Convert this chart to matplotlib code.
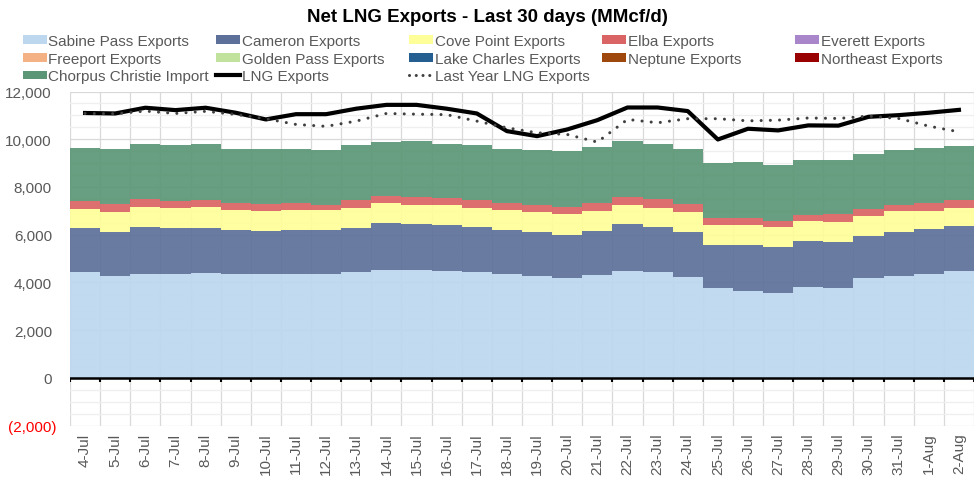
import matplotlib
matplotlib.use('Agg')
import matplotlib.pyplot as plt
import matplotlib.transforms as mtransforms
import numpy as np
from matplotlib.patches import Patch
from matplotlib.lines import Line2D
from matplotlib.ticker import MultipleLocator

plt.rcParams['font.family'] = ['Liberation Sans', 'DejaVu Sans']

dates = ['4-Jul', '5-Jul', '6-Jul', '7-Jul', '8-Jul', '9-Jul', '10-Jul', '11-Jul',
         '12-Jul', '13-Jul', '14-Jul', '15-Jul', '16-Jul', '17-Jul', '18-Jul', '19-Jul',
         '20-Jul', '21-Jul', '22-Jul', '23-Jul', '24-Jul', '25-Jul', '26-Jul', '27-Jul',
         '28-Jul', '29-Jul', '30-Jul', '31-Jul', '1-Aug', '2-Aug']

# MMcf/d
sabine = [4420, 4280, 4360, 4350, 4390, 4350, 4360, 4360, 4360, 4420,
          4530, 4530, 4470, 4440, 4370, 4290, 4190, 4320, 4470, 4440,
          4210, 3760, 3660, 3570, 3790, 3770, 4180, 4260, 4350, 4460]
cameron = [1850, 1830, 1970, 1920, 1910, 1840, 1800, 1830, 1830, 1870,
           1980, 1920, 1940, 1880, 1810, 1840, 1810, 1840, 1970, 1880,
           1900, 1810, 1900, 1920, 1940, 1930, 1770, 1870, 1900, 1900]
cove_point = [820, 860, 820, 850, 850, 840, 840, 840, 840, 840,
              820, 790, 820, 820, 840, 820, 850, 840, 820, 820,
              840, 820, 850, 820, 850, 840, 820, 860, 760, 740]
elba = [340, 310, 340, 310, 310, 290, 290, 290, 220, 320,
        310, 340, 290, 310, 290, 310, 320, 350, 330, 360,
        320, 320, 290, 280, 240, 310, 320, 270, 310, 340]
everett = [0] * 30
freeport = [0] * 30
golden_pass = [0] * 30
lake_charles = [0] * 30
neptune = [0] * 30
northeast = [0] * 30
corpus = [2200, 2300, 2310, 2310, 2320, 2290, 2290, 2290, 2300, 2300,
          2250, 2330, 2300, 2290, 2290, 2310, 2330, 2320, 2320, 2310,
          2340, 2310, 2330, 2330, 2330, 2300, 2290, 2310, 2300, 2260]

lng_exports = [11100, 11080, 11320, 11220, 11320, 11110, 10830, 11050, 11050, 11280,
               11440, 11440, 11280, 11080, 10340, 10130, 10410, 10800, 11330, 11330,
               11180, 9990, 10440, 10370, 10580, 10570, 10940, 11010, 11110, 11230]
last_year = [11080, 11070, 11180, 11080, 11170, 11040, 10860, 10620, 10540, 10760,
             11080, 11050, 11030, 10760, 10480, 10270, 10200, 9880, 10830, 10690,
             10860, 10860, 10770, 10800, 10890, 10870, 10970, 10870, 10550, 10310]

series = [
    ('Sabine Pass Exports', sabine, '#BDD7EE'),
    ('Cameron Exports', cameron, '#5D7099'),
    ('Cove Point Exports', cove_point, '#FFFF99'),
    ('Elba Exports', elba, '#DA6363'),
    ('Everett Exports', everett, '#A985C9'),
    ('Freeport Exports', freeport, '#F4B183'),
    ('Golden Pass Exports', golden_pass, '#C0E29C'),
    ('Lake Charles Exports', lake_charles, '#255E91'),
    ('Neptune Exports', neptune, '#9E480E'),
    ('Northeast Exports', northeast, '#990000'),
    ('Chorpus Christie Import', corpus, '#5B9676'),
]

fig = plt.figure(figsize=(9.74, 4.81), dpi=100)
ax = fig.add_axes([70 / 974, 1 - 426.7 / 481, 904 / 974, 334.2 / 481])

x = np.arange(len(dates))
bottom = np.zeros(len(dates))
handles = {}
for name, vals, color in series:
    ax.bar(x, vals, width=1.0, bottom=bottom, color=color, alpha=0.92,
           linewidth=0, zorder=2)
    bottom += np.array(vals)
    handles[name] = Patch(facecolor=color, edgecolor='none')

ax.plot(x, lng_exports, color='black', lw=3, zorder=4, solid_joinstyle='round')
ax.plot(x, last_year, color='#404040', lw=2.2, linestyle=(0, (0.01, 3)),
        dash_capstyle='round', zorder=4)
handles['LNG Exports'] = Line2D([], [], color='black', lw=3)
handles['Last Year LNG Exports'] = Line2D([], [], color='#404040', lw=2.2,
                                          linestyle=(0, (0.01, 2.2)),
                                          dash_capstyle='round')

ax.set_xlim(-0.5, len(dates) - 0.5)
ax.set_ylim(-2000, 12000)

yticks = list(range(-2000, 12001, 2000))
ylabels = [f'({abs(v):,})' if v < 0 else f'{v:,}' for v in yticks]
ax.set_yticks(yticks, ylabels)
ax.yaxis.set_minor_locator(MultipleLocator(500))
ax.set_xticks(x, dates, rotation=90)
ax.set_xticks(np.arange(-0.5, len(dates), 1), minor=True)

ax.set_axisbelow(True)
ax.grid(axis='y', which='major', color='#D9D9D9', lw=0.9)
ax.grid(axis='y', which='minor', color='#EFEFEF', lw=0.9)
ax.grid(axis='x', which='minor', color='#D9D9D9', lw=0.9)

for s in ax.spines.values():
    s.set_visible(False)

# zero line with category ticks
ax.axhline(0, color='black', lw=1.8, zorder=3)
ax.vlines(np.arange(-0.5, len(dates), 1), -170, 0, color='black', lw=1.5, zorder=3)

ax.tick_params(axis='both', which='both', length=0, labelsize=11, labelcolor='#595959')
ax.tick_params(axis='y', pad=13)
ax.tick_params(axis='x', pad=5)
# negative label in red, with the bracket hanging a little to the right
shift = mtransforms.ScaledTranslation(3 / 72, 0, fig.dpi_scale_trans)
for lab, v in zip(ax.get_yticklabels(), yticks):
    if v < 0:
        lab.set_color('red')
        lab.set_transform(lab.get_transform() + shift)

fig.text(0.5, 1 - 17 / 481, 'Net LNG Exports - Last 30 days (MMcf/d)',
         ha='center', va='center', fontsize=13.5, fontweight='bold')

legend_cols = [
    ['Sabine Pass Exports', 'Freeport Exports', 'Chorpus Christie Import'],
    ['Cameron Exports', 'Golden Pass Exports', 'LNG Exports'],
    ['Cove Point Exports', 'Lake Charles Exports', 'Last Year LNG Exports'],
    ['Elba Exports', 'Neptune Exports'],
    ['Everett Exports', 'Northeast Exports'],
]
col_x = [22.7, 216, 409, 602, 795]
for names, px in zip(legend_cols, col_x):
    fig.legend([handles[n] for n in names], names, loc='upper left',
               bbox_to_anchor=(px / 974, 1 - 35 / 481), frameon=False,
               fontsize=11, handlelength=1.57, handleheight=0.5,
               handletextpad=0.1, borderpad=0, borderaxespad=0,
               labelspacing=0.24, labelcolor='#595959')

fig.savefig('out.png', dpi=100)
